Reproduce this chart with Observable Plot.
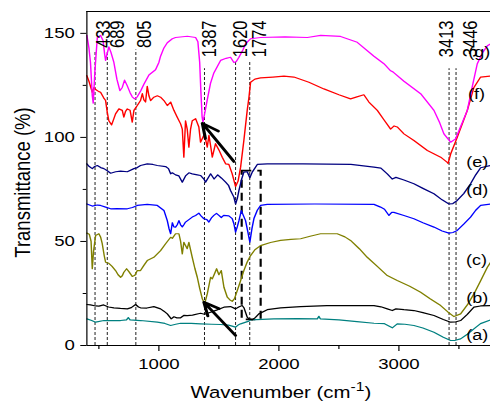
<!DOCTYPE html>
<html><head><meta charset="utf-8">
<script src="https://cdn.jsdelivr.net/npm/d3@7"></script>
<script src="https://cdn.jsdelivr.net/npm/@observablehq/plot@0.6"></script>
<style>
html,body{margin:0;padding:0;background:#fff;overflow:hidden;}
#chart svg{display:block;}
</style></head><body><div id="chart"></div>
<script>
// ---- data (wavenumber cm^-1, transmittance %) ----
const seriesKeys = ["(a)","(b)","(c)","(d)","(e)","(f)","(g)"];
const seriesA = [[400,12.8],[440,12],[473,11.2],[542,12],[600,12],[681,12],[730,12.3],[745,13.4],[760,12.3],[847,12],[987,11.2],[1050,10.6],[1098,9.6],[1140,10.2],[1181,10.7],[1270,10.6],[1347,10.4],[1440,10.2],[1514,10.1],[1580,9.8],[1610,9.3],[1639,8.8],[1660,9.8],[1681,10.4],[1750,11.7],[1764,12.3],[1958,12.8],[2150,12.9],[2320,12.8],[2333,14],[2345,12.8],[2500,12.3],[2650,11.5],[2792,10.7],[2880,10.5],[2920,9.3],[2945,8.5],[2986,10.4],[3050,10.2],[3125,9.6],[3200,8.4],[3292,6.4],[3370,4],[3431,2.4],[3470,2.5],[3514,3.2],[3570,5.4],[3625,8],[3680,10.5],[3764,12.3]];
const seriesB = [[400,19.7],[430,19.5],[473,19],[500,18.9],[540,19.5],[580,18.5],[625,18.1],[680,17.8],[737,17.6],[770,18.2],[806,19.7],[830,18.5],[847,18.1],[900,18],[958,18.7],[1014,17.6],[1042,16.5],[1070,15.2],[1103,12.8],[1125,13.8],[1150,13.3],[1181,13.3],[1210,14.5],[1236,14.4],[1280,14.6],[1347,15.5],[1380,15],[1431,16],[1480,17],[1542,18.4],[1597,18.7],[1639,17.6],[1665,18.5],[1694,19.2],[1710,18],[1736,13.6],[1750,12.8],[1778,12.3],[1805,13.5],[1833,15.2],[1903,17.2],[2014,18.1],[2181,18.7],[2400,19.2],[2792,19.2],[2850,18.6],[2903,17.6],[2945,16.8],[2975,17.6],[3042,17.2],[3125,16.8],[3200,15.8],[3292,14.4],[3370,12.5],[3431,11.2],[3470,11.3],[3514,12],[3570,15],[3625,18.4],[3680,19],[3764,19.2]];
const seriesC = [[400,54],[420,53.5],[435,50],[445,36.9],[455,45],[473,52.9],[500,53.7],[515,52],[528,48.9],[545,43],[556,40],[583,39.5],[610,38],[639,36],[660,34],[681,32.8],[695,33.5],[708,35.2],[731,36.9],[750,35.5],[778,33.2],[800,33.8],[820,36],[847,36],[875,38.5],[903,40.8],[958,42.4],[1014,45.6],[1056,48.9],[1098,52],[1112,51.5],[1139,53.7],[1167,53.7],[1181,50],[1195,44],[1208,49.6],[1222,48],[1236,46.5],[1250,49.6],[1264,46],[1278,42.4],[1300,37],[1320,32.8],[1340,27.5],[1362,22.4],[1381,20],[1403,24.8],[1431,32.8],[1445,32],[1460,34],[1481,36.9],[1500,34],[1520,36],[1542,28],[1570,23.2],[1590,22],[1611,21.2],[1630,22.5],[1653,26.4],[1680,31],[1708,36],[1735,40],[1764,43.2],[1800,46],[1847,48],[1930,49.5],[2014,50.5],[2100,51],[2181,51.3],[2260,52.5],[2347,53.7],[2486,53.7],[2550,52.2],[2597,50.5],[2670,46.5],[2736,42.4],[2820,38],[2903,33.6],[2986,31.2],[3090,28.5],[3181,25.6],[3260,22.5],[3348,19.2],[3410,16],[3459,13.9],[3514,15.2],[3570,19.5],[3625,24.8],[3680,31],[3737,37.6],[3764,40]];
const seriesD = [[400,68],[445,67],[487,67.5],[514,67.3],[556,66.5],[598,65.7],[650,65.8],[737,65.7],[780,66.3],[820,67.3],[903,67.8],[987,67.3],[1042,64.9],[1070,60],[1085,56],[1098,53.7],[1112,59],[1125,57],[1139,56.9],[1153,58],[1167,60],[1181,58],[1195,57],[1208,58],[1222,59.3],[1250,60.5],[1278,61.7],[1306,62.5],[1333,63.6],[1355,62],[1375,60.9],[1400,60.5],[1417,59.3],[1440,61.5],[1458,62.5],[1480,63.5],[1500,62.5],[1520,61.5],[1540,62.5],[1583,62.3],[1611,61],[1625,58.5],[1639,54.5],[1653,57],[1667,60],[1687,64.8],[1700,63],[1722,60],[1740,55],[1758,49.7],[1775,56],[1792,61],[1820,65],[1847,67.3],[1903,67.8],[2300,68],[2792,67.8],[2847,66.5],[2880,65.5],[2917,62.5],[2940,64],[2958,64],[3042,62.5],[3125,60.9],[3200,59],[3292,56.9],[3360,55],[3417,54],[3450,54.3],[3486,55.3],[3540,58.3],[3597,61.7],[3640,65],[3681,67.3],[3764,68]];
const seriesE = [[400,87.3],[420,86],[445,85],[465,86],[487,86.5],[515,85.5],[542,85],[570,84],[598,82.8],[640,83.5],[681,83.8],[737,83.5],[792,85],[820,85.5],[847,86.5],[903,87.3],[950,87],[987,86.5],[1056,86],[1080,85],[1098,82.5],[1112,83],[1139,82],[1167,81.5],[1195,78.5],[1222,81.5],[1250,83],[1278,82.5],[1320,82],[1347,81.7],[1375,80],[1389,78.5],[1410,80.5],[1431,82.5],[1460,80],[1490,82],[1520,80.5],[1556,78.5],[1580,77],[1597,74.5],[1625,71.3],[1639,68],[1655,71],[1667,74.5],[1690,80],[1708,83.3],[1736,83.5],[1758,80.6],[1778,83.3],[1820,87],[1903,87.3],[2200,87.3],[2600,87],[2792,85.7],[2850,85.2],[2903,82.5],[2945,80],[2975,80.8],[3042,79.5],[3125,77.7],[3200,75.5],[3292,72.9],[3360,70],[3417,68],[3450,68.2],[3486,69.7],[3540,73],[3597,77.7],[3640,82],[3681,85.4],[3764,86.5]];
const seriesF = [[400,129.7],[417,127],[445,121.7],[460,124],[473,123],[500,122],[514,121.7],[540,119],[556,117.7],[570,112],[583,108],[606,106],[625,109],[639,111.3],[667,113.7],[695,113],[708,109.7],[722,112.5],[737,113.7],[760,113],[778,107.3],[792,113],[820,115.3],[847,117.7],[862,121],[875,118],[889,117],[903,124.5],[917,120],[931,117.7],[958,119.3],[987,120],[1014,119.3],[1042,117.7],[1070,115.3],[1098,117],[1125,113],[1153,109.7],[1181,106.5],[1195,104],[1208,90.5],[1222,108],[1236,104],[1250,95.3],[1264,104],[1278,108],[1306,109],[1333,105],[1347,97.7],[1375,101],[1389,99],[1403,95.3],[1417,101],[1431,96],[1445,90.5],[1472,97],[1500,94],[1528,90.5],[1556,87.3],[1583,87],[1611,82.5],[1639,76.4],[1660,79],[1681,85.7],[1708,98.5],[1736,113],[1750,119],[1764,126.5],[1800,128],[1847,128.6],[1950,129],[2042,129.4],[2125,129],[2250,126.5],[2375,123.3],[2500,120.5],[2597,118.5],[2650,119.5],[2708,120.5],[2750,117],[2820,113],[2875,108.5],[2931,104],[2960,105.5],[2986,105],[3042,101.7],[3125,98.5],[3237,93.7],[3348,90.5],[3403,88],[3410,87.5],[3431,92],[3486,100],[3570,113],[3625,124],[3681,129],[3764,129.5]];
const seriesG = [[400,149],[417,143],[430,136],[445,120],[453,116.5],[467,132],[487,148],[514,149],[535,146.5],[548,140],[556,137],[568,140],[583,143.5],[600,141],[625,136],[650,128],[675,122.5],[695,124],[714,127.5],[735,125],[760,121.5],[778,119.5],[797,118.5],[820,119.5],[850,122.5],[875,125.5],[917,130],[972,132.5],[1000,136],[1014,139],[1042,143],[1070,145.5],[1112,147.4],[1139,148],[1237,148.6],[1306,148],[1325,146],[1340,136],[1350,122],[1360,110],[1367,107.3],[1380,111],[1403,118],[1430,126],[1458,131],[1514,137],[1560,138],[1597,138.5],[1625,136],[1645,136.5],[1667,138.5],[1700,142],[1722,145],[1763,147.4],[1847,148],[2050,148.3],[2237,148],[2348,149],[2514,148.5],[2653,145.7],[2792,139],[2875,135.4],[2931,132],[2950,131.5],[3042,127],[3181,121],[3292,113],[3340,107],[3375,101.7],[3431,97.7],[3472,99.3],[3520,106],[3570,113],[3610,124],[3653,135.4],[3700,141],[3737,144],[3764,145]];
const seriesPoints = [seriesA, seriesB, seriesC, seriesD, seriesE, seriesF, seriesG];
const seriesLabelX = [3562, 3562, 3560, 3562, 3562, 3575, 3578];
const seriesLabelY = [4.8, 22.6, 40.8, 74.5, 88, 121, 140.8];

const peakLabels = ["433","689","805","1387","1620","1774","3413","3446"];
const peakLineX  = [468, 570, 808, 1380, 1639, 1757, 3418, 3476];
const peakLineTop = [141, 141, 142, 133, 136, 136, 133, 133];
const peakLabelX = [472, 590, 814, 1356, 1618, 1772, 3335, 3535];

const boxX = [1695, 1853];
const boxY = [12.3, 83.8];
const arrowTail = [[1625, 88.4], [1639, 4.8]];
const arrowHead = [[1362, 106.8], [1375, 20.8]];

const xMajorTicks = [1000, 2000, 3000];
const xMinorTicks = [500, 1500, 2500, 3500];
const yMajorTicks = [0, 50, 100, 150];
const yMinorTicks = [25, 75, 125];
const xDomain = [400, 3764];
const yDomain = [0, 160.5];
const xTitle = ["Wavenumber (cm", "-1", ")"];
const yTitle = "Transmittance (%)";

// ---- styles ----
const seriesColors = ["#008080", "#000000", "#808000", "#0000ff", "#000080", "#ff0000", "#ff00ff"];
const S = 1.2;            // horizontal stretch of the reference picture
const W = 490 / S;
const font = "'Liberation Sans', Arial, Helvetica, sans-serif";

const rows = seriesPoints.flatMap((pts, i) => pts.map(([x, y]) => ({key: seriesKeys[i], x, y})));
const sLabels = seriesKeys.map((k, i) => ({k, x: seriesLabelX[i], y: seriesLabelY[i]}));
const peakLines = peakLineX.map((x, i) => ({x, top: peakLineTop[i]}));
const peakTexts = peakLabels.map((t, i) => ({t, x: peakLabelX[i]}));
const arrows = arrowTail.map((t, i) => ({x1: t[0], y1: t[1], x2: arrowHead[i][0], y2: arrowHead[i][1]}));

const svg = Plot.plot({
  width: W, height: 402,
  marginLeft: 71.9, marginRight: 0, marginTop: 11, marginBottom: 57,
  style: {fontFamily: font, fontSize: "15.5px", color: "#000", background: "#fff", overflow: "hidden"},
  x: {domain: xDomain, label: null},
  y: {domain: yDomain, label: null},
  color: {domain: seriesKeys, range: seriesColors},
  marks: [
    Plot.ruleX(peakLines, {x: "x", y1: 0, y2: "top", stroke: "#000", strokeWidth: 0.8, strokeDasharray: "3,2"}),
    Plot.rect([{x1: boxX[0], x2: boxX[1], y1: boxY[0], y2: boxY[1]}], {x1: "x1", x2: "x2", y1: "y1", y2: "y2", fill: "none", stroke: "#000", strokeWidth: 1.8, strokeDasharray: "8,5"}),
    Plot.line(rows, {x: "x", y: "y", z: "key", stroke: "key", strokeWidth: 1.2, curve: "linear"}),
    Plot.arrow(arrows, {x1: "x1", y1: "y1", x2: "x2", y2: "y2", stroke: "#000", strokeWidth: 2.6, headLength: 12, headAngle: 50}),
    Plot.text(peakTexts, {x: "x", text: "t", frameAnchor: "top", dy: 9, rotate: -90, textAnchor: "end", fontSize: 16.5, fill: "#000"}),
    Plot.text(sLabels, {x: "x", y: "y", text: "k", textAnchor: "start", fontSize: 15, fill: "#000"}),
    Plot.text([yTitle], {frameAnchor: "left", dx: -53.6, dy: 4, rotate: -90, textAnchor: "middle", text: d => d, fontSize: 18.5, fill: "#000"}),
    Plot.axisX({ticks: xMajorTicks, tickSize: 6, tickPadding: 6, tickFormat: d => String(d), label: null}),
    Plot.axisX({ticks: xMinorTicks, tickSize: 4, tickFormat: () => "", label: null}),
    Plot.axisY({ticks: yMajorTicks, tickSize: 5, tickPadding: 5, tickFormat: d => String(d), label: null}),
    Plot.axisY({ticks: yMinorTicks, tickSize: 3, tickFormat: () => "", label: null}),
    Plot.ruleX([xDomain[0]], {stroke: "#000", strokeWidth: 1}),
    Plot.ruleY([yDomain[0]], {stroke: "#000", strokeWidth: 1.2}),
    Plot.ruleY([yDomain[1]], {stroke: "#000", strokeWidth: 1.2})
  ]
});

// x title with superscript
const t = d3.select(svg).append("text")
  .attr("x", 234).attr("y", 398)
  .attr("text-anchor", "middle")
  .attr("font-family", font).attr("font-size", 17).attr("fill", "#000");
t.append("tspan").text(xTitle[0]);
t.append("tspan").attr("dy", -7).attr("font-size", 13).text(xTitle[1]);
t.append("tspan").attr("dy", 7).text(xTitle[2]);

svg.setAttribute("width", 490);
svg.setAttribute("preserveAspectRatio", "none");
svg.style.width = "490px";
svg.style.height = "402px";
svg.style.maxWidth = "none";
document.getElementById("chart").appendChild(svg);
</script></body></html>
